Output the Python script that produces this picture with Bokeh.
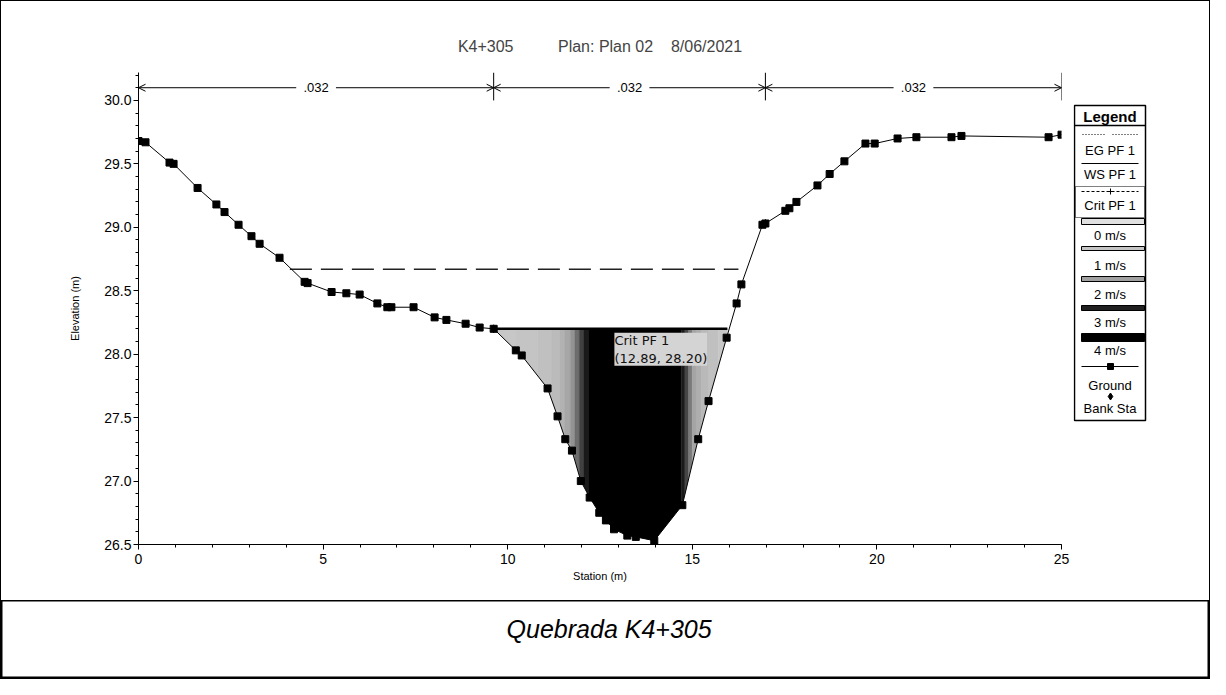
import numpy as np
from bokeh.plotting import figure
from bokeh.models import (Range1d, FixedTicker, Arrow, OpenHead, LabelSet, Label,
                          ColumnDataSource, PrintfTickFormatter)
from bokeh.layouts import column, row
from bokeh.embed import file_html
from bokeh.resources import INLINE
from bokeh.core.properties import value

# ---------------- data ----------------
title_text = "K4+305" + "\u00a0" * 10 + "Plan: Plan 02" + "\u00a0" * 4 + "8/06/2021"
caption_text = "Quebrada K4+305"

ground_x = [0.00, 0.19, 0.84, 0.95, 1.60, 2.11, 2.33, 2.71, 3.06, 3.28, 3.82, 4.50, 4.58,
            5.23, 5.63, 5.99, 6.47, 6.74, 6.85, 7.45, 8.02, 8.34, 8.86, 9.24, 9.62,
            10.22, 10.38, 11.08, 11.35, 11.56, 11.74, 11.98, 12.22, 12.48, 12.66, 12.88,
            13.24, 13.47, 13.97,
            14.73, 15.16, 15.44, 15.93, 16.20, 16.33, 16.90, 16.98, 17.52, 17.63, 17.82,
            18.39, 18.72, 19.12, 19.69, 19.94, 20.56, 21.07, 22.02, 22.29, 24.65, 25.00]
ground_y = [29.68, 29.67, 29.51, 29.50, 29.31, 29.18, 29.12, 29.02, 28.93, 28.87, 28.76, 28.57, 28.56,
            28.49, 28.48, 28.47, 28.40, 28.37, 28.37, 28.37, 28.29, 28.27, 28.24, 28.21, 28.20,
            28.03, 27.99, 27.73, 27.51, 27.33, 27.24, 27.00, 26.87, 26.75, 26.69, 26.62,
            26.57, 26.56, 26.53,
            26.81, 27.33, 27.63, 28.13, 28.40, 28.55, 29.02, 29.03, 29.13, 29.15, 29.20,
            29.33, 29.42, 29.52, 29.66, 29.66, 29.70, 29.71, 29.71, 29.72, 29.71, 29.73]

bank_sta = [9.62, 16.98]
bank_el = [28.20, 29.03]

ws_el = 28.20            # WS PF 1 (= Crit PF 1)
ws_x = [9.62, 15.95]
eg_el = 28.67            # EG PF 1
eg_x = [4.10, 16.25]

n_bounds = [0.0, 9.62, 16.98, 25.0]
n_values = [".032", ".032", ".032"]

cursor_x, cursor_y = 12.89, 28.20

# velocity distribution across the flow (strip edges, m/s in each strip)
vel_edges = [9.62, 10.2, 10.8, 11.2, 11.4, 11.55, 11.7, 11.82, 11.94, 12.06, 12.2, 14.7,
             14.8, 14.9, 15.0, 15.1, 15.25, 15.45, 15.7, 15.95]
vel_values = [0.9, 1.0, 1.1, 1.25, 1.5, 1.8, 2.1, 2.4, 2.75, 3.2, 4.2,
              3.2, 2.7, 2.3, 1.9, 1.6, 1.3, 1.1, 0.9]

speed_levels = [0, 1, 2, 3, 4]
speed_labels = ["0 m/s", "1 m/s", "2 m/s", "3 m/s", "4 m/s"]
speed_greys = [224, 196, 160, 32, 0]

x_ticks = [0, 5, 10, 15, 20, 25]
y_ticks = [26.5, 27.0, 27.5, 28.0, 28.5, 29.0, 29.5, 30.0]

# ---------------- styling ----------------
FONT = "'Liberation Sans', Arial, sans-serif"
NB = "\u00a0"
BORDER_TOP, BORDER_BOTTOM = 71, 56
FIG_H = 599


def grey_hex(g):
    g = int(round(g))
    return "#%02x%02x%02x" % (g, g, g)


def speed_colour(v):
    return grey_hex(np.interp(v, speed_levels, speed_greys))


Y0, Y1 = 26.5, 30.22

chart = figure(width=1072, height=FIG_H, x_range=Range1d(0, 25), y_range=Range1d(Y0, Y1),
               output_backend="svg", toolbar_location=None,
               min_border_left=137, min_border_right=12, min_border_top=BORDER_TOP,
               min_border_bottom=BORDER_BOTTOM, title=title_text)
chart.title.align = "center"
chart.title.text_font = FONT
chart.title.text_font_size = "16px"
chart.title.text_font_style = "normal"
chart.title.standoff = 35
chart.xgrid.visible = False
chart.ygrid.visible = False
chart.outline_line_color = None
chart.background_fill_color = "white"
chart.border_fill_color = "white"

# velocity strips, then mask what lies under the ground
strip_src = ColumnDataSource(dict(
    left=vel_edges[:-1], right=vel_edges[1:],
    top=[ws_el] * len(vel_values), bottom=[Y0] * len(vel_values),
    color=[speed_colour(v) for v in vel_values]))
chart.quad(left="left", right="right", top="top", bottom="bottom", fill_color="color",
           line_color="color", line_width=0.5, source=strip_src)
chart.patch(ground_x + [ground_x[-1], ground_x[0]], ground_y + [Y0 - 1, Y0 - 1],
            fill_color="white", line_color=None)

# EG and WS lines
chart.line(eg_x, [eg_el] * len(eg_x), line_color="#222222", line_width=1.5, line_dash="22 9")
chart.line(ws_x, [ws_el] * len(ws_x), line_color="black", line_width=2.5)

# ground
chart.line(ground_x, ground_y, line_color="black", line_width=1)
chart.scatter(ground_x, ground_y, marker="square", size=7, color="black")
chart.scatter(bank_sta, bank_el, marker="diamond", size=8, color="black")

# Manning's n arrows
n_y = 30.1
arrow_src = ColumnDataSource(dict(x0=n_bounds[:-1], x1=n_bounds[1:], y=[n_y] * len(n_values)))
chart.add_layout(Arrow(start=OpenHead(size=7, line_width=1), end=OpenHead(size=7, line_width=1),
                       x_start="x0", y_start="y", x_end="x1", y_end="y",
                       line_width=1, source=arrow_src))
chart.segment(x0=n_bounds[1:], y0=[30.0] * 3, x1=n_bounds[1:], y1=[Y1] * 3,
              line_color="black", line_width=1)
lab_src = ColumnDataSource(dict(x=[(a + b) / 2 for a, b in zip(n_bounds[:-1], n_bounds[1:])],
                                y=[n_y] * len(n_values),
                                text=[NB * 2 + t + NB * 2 for t in n_values]))
chart.add_layout(LabelSet(x="x", y="y", text="text", source=lab_src, text_align="center",
                          text_baseline="middle", text_font=value(FONT),
                          text_font_size=value("13px"), text_color="black",
                          background_fill_color="white"))

# cursor readout
chart.add_layout(Label(x=cursor_x, y=cursor_y, y_offset=-4,
                       text="Crit PF 1\n(%.2f, %.2f)" % (cursor_x, cursor_y),
                       text_align="left", text_baseline="top", text_font="DejaVu Sans",
                       text_font_size="13px", text_color="#111111",
                       background_fill_color="#d4d4d4"))

# axes
chart.xaxis.ticker = FixedTicker(ticks=x_ticks, minor_ticks=list(range(0, 26)))
chart.yaxis.ticker = FixedTicker(ticks=y_ticks,
                                 minor_ticks=[round(26.5 + 0.1 * i, 1) for i in range(38)])
chart.yaxis.formatter = PrintfTickFormatter(format="%.1f")
chart.xaxis.axis_label = "Station (m)"
chart.yaxis.axis_label = "Elevation (m)"
for ax in (chart.xaxis[0], chart.yaxis[0]):
    ax.axis_line_color = "black"
    ax.major_tick_line_color = "black"
    ax.minor_tick_line_color = "black"
    ax.major_tick_out = 5
    ax.major_tick_in = 0
    ax.minor_tick_out = 3
    ax.minor_tick_in = 0
    ax.major_label_text_font = FONT
    ax.major_label_text_font_size = "14px"
    ax.major_label_text_color = "black"
    ax.axis_label_text_font = FONT
    ax.axis_label_text_font_size = "11px"
    ax.axis_label_text_font_style = "normal"
    ax.axis_label_text_color = "black"
chart.xaxis.major_label_standoff = 4
chart.xaxis.axis_label_standoff = 3
chart.yaxis.major_label_standoff = 2
chart.yaxis.axis_label_standoff = 20

# ---------------- legend panel ----------------
# local legend coordinates: origin at the legend box's top-left corner, in pixels
frame_h = FIG_H - BORDER_TOP - BORDER_BOTTOM
box_top_off = 33  # box top sits 33 px below the plot frame top
leg = figure(width=136, height=FIG_H, x_range=Range1d(-1, 135),
             y_range=Range1d(frame_h - box_top_off, -box_top_off),
             x_axis_type=None, y_axis_type=None, output_backend="svg", toolbar_location=None,
             min_border_left=0, min_border_right=0, min_border_top=BORDER_TOP,
             min_border_bottom=BORDER_BOTTOM, title=None)
leg.outline_line_color = None
leg.xgrid.visible = False
leg.ygrid.visible = False
leg.quad(left=[0], right=[71], top=[0], bottom=[315], fill_color="white", line_color="black",
         line_width=1.5)
leg.segment(x0=[0], y0=[20], x1=[71], y1=[20], line_color="black", line_width=1.5)
leg.text(x=[35.5], y=[10.5], text=["Legend"], text_align="center", text_baseline="middle",
         text_font=value(FONT), text_font_size="15px", text_font_style="bold")
# EG (dotted), WS (solid), Crit (dashed)
leg.segment(x0=[8, 38], y0=[29, 29], x1=[32, 63], y1=[29, 29], line_color="black",
            line_width=1, line_dash="1 2")
leg.segment(x0=[7], y0=[58], x1=[64], y1=[58], line_color="black", line_width=1.2)
leg.quad(left=[1], right=[70], top=[81], bottom=[112], fill_color=None, line_color="black",
         line_dash="1 1", line_width=1)
leg.segment(x0=[7], y0=[86], x1=[64], y1=[86], line_color="black", line_width=1, line_dash="3 2")
leg.scatter([36], [86], marker="cross", size=6, color="black")
# velocity swatches
sw_top = [113, 141, 171, 200, 228]
sw_bot = [119, 145, 176, 205, 236]
leg.quad(left=[7] * 5, right=[70] * 5, top=sw_top, bottom=sw_bot,
         fill_color=[grey_hex(g) for g in speed_greys], line_color="black", line_width=1)
# ground and bank sta
leg.segment(x0=[7], y0=[261], x1=[64], y1=[261], line_color="black", line_width=1)
leg.scatter([36], [261], marker="square", size=6, color="black")
leg.scatter([36], [291], marker="diamond", size=7, color="black")
leg_labels = ["EG PF 1", "WS PF 1", "Crit PF 1"] + speed_labels + ["Ground", "Bank Sta"]
leg_label_y = [45, 69, 100, 130, 160, 189, 217, 245, 280, 303]
leg.text(x=[35.5] * len(leg_labels), y=leg_label_y, text=leg_labels, text_align="center",
         text_baseline="middle", text_font=value(FONT), text_font_size="13px", text_color="black")

# ---------------- caption ----------------
cap = figure(width=1208, height=78, x_range=Range1d(0, 1), y_range=Range1d(0, 1),
             x_axis_type=None, y_axis_type=None, output_backend="svg", toolbar_location=None,
             min_border=0, title=None)
cap.outline_line_color = "black"
cap.outline_line_width = 2
cap.xgrid.visible = False
cap.ygrid.visible = False
cap.text(x=[0.503], y=[0.64], text=[caption_text], text_align="center", text_baseline="middle",
         text_font=value(FONT), text_font_size="25px", text_font_style="italic", text_color="black")

layout = column(row(chart, leg), cap, styles={"border": "1px solid black"})

open("out.html", "w").write(file_html(layout, INLINE))
